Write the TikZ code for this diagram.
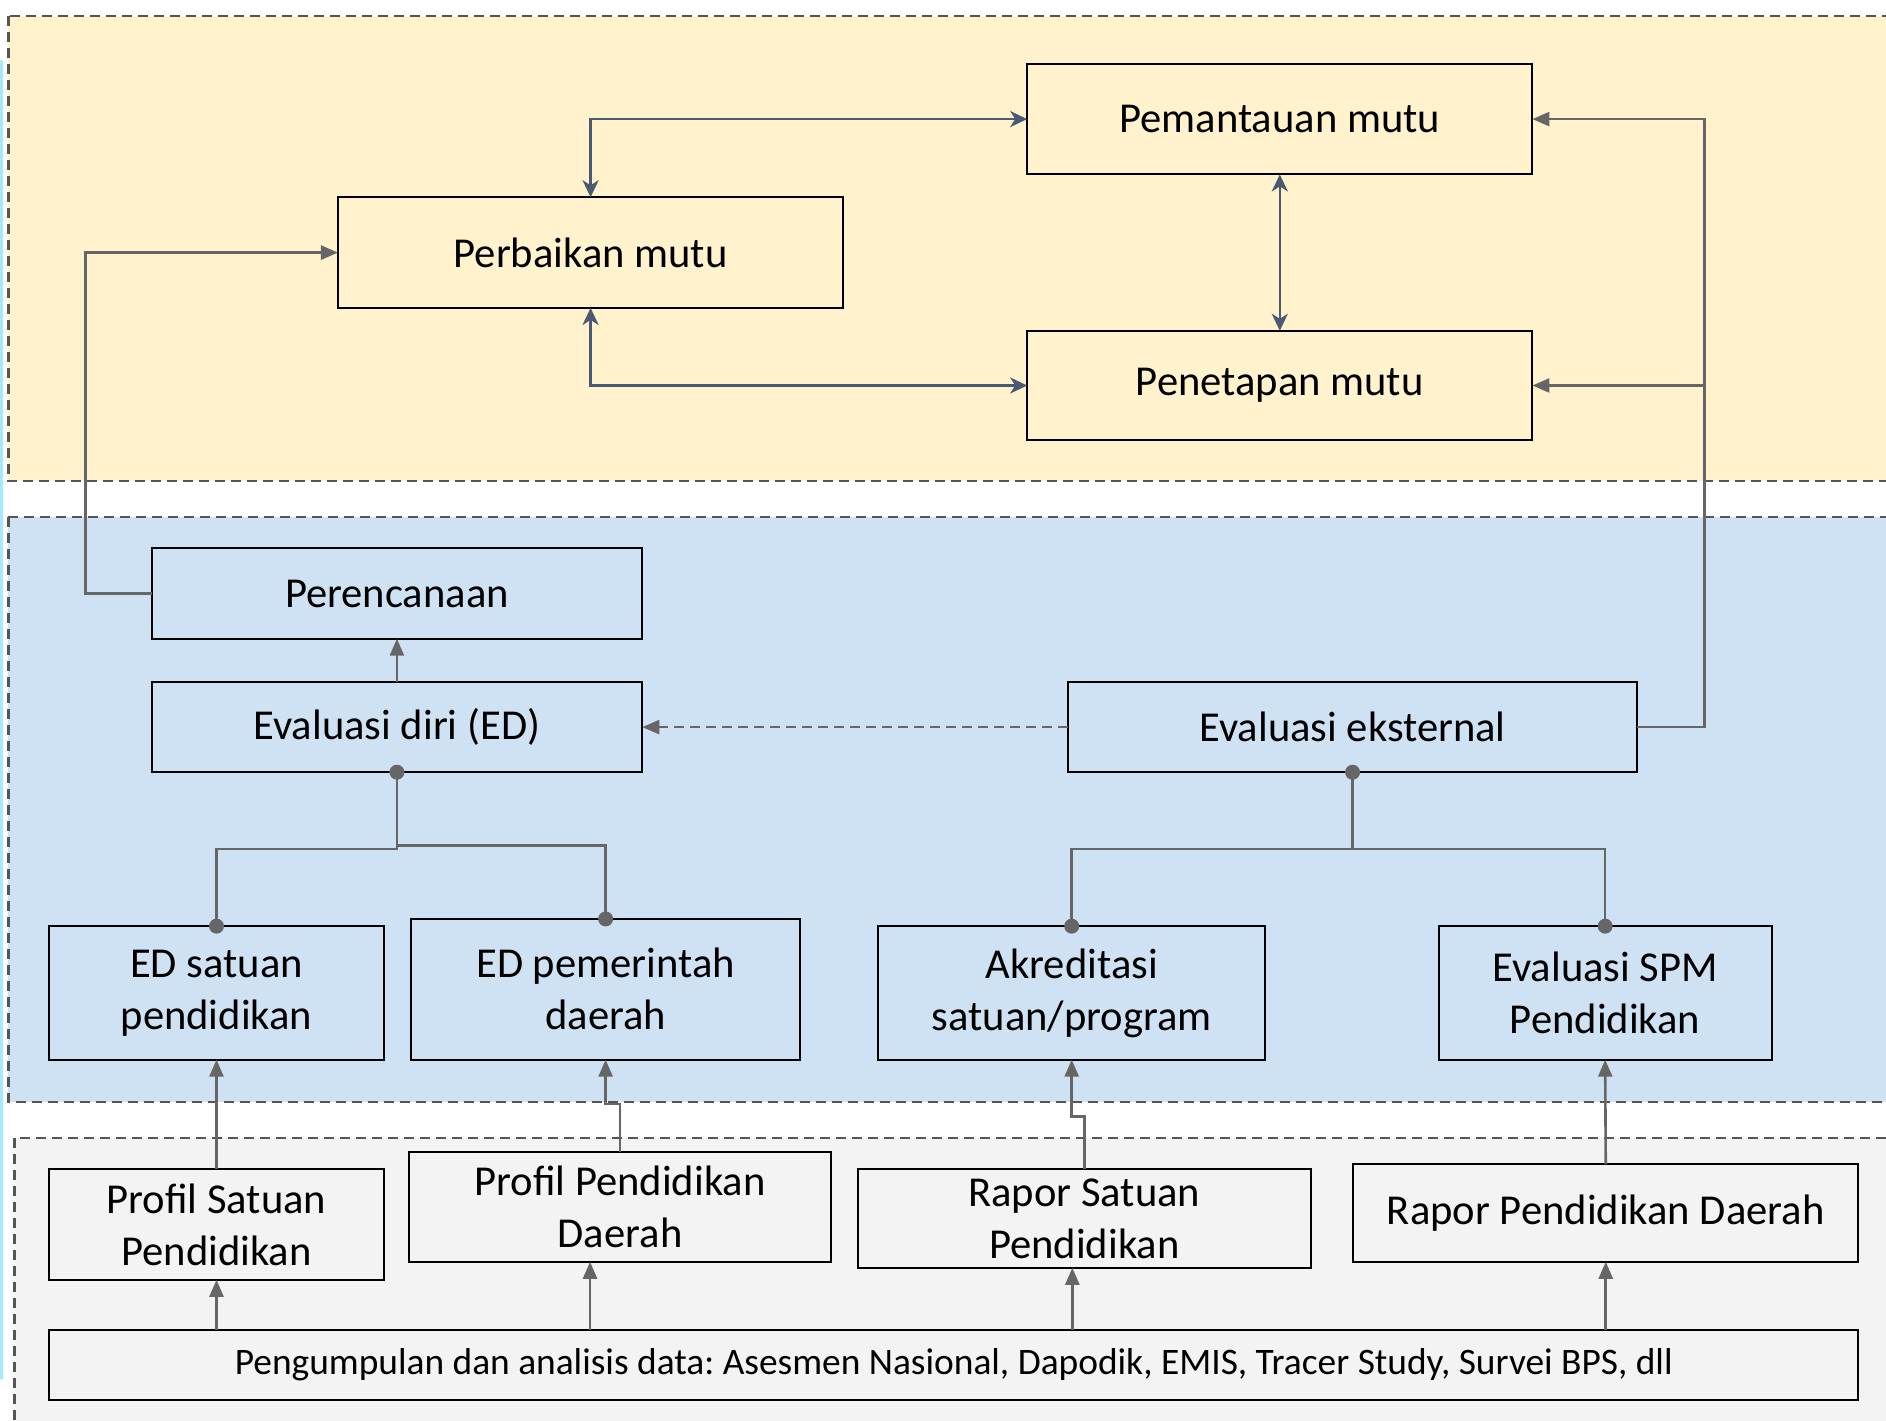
\documentclass[tikz,border=0pt]{standalone}
\usepackage{fontspec}
\setmainfont{Carlito}
\usetikzlibrary{arrows.meta,calc}
\definecolor{ybg}{HTML}{FFF2CC}
\definecolor{bbg}{HTML}{CFE2F3}
\definecolor{gbg}{HTML}{F3F3F3}
\definecolor{slate}{HTML}{4A5A72}
\definecolor{gline}{HTML}{666666}
\definecolor{dashc}{HTML}{555555}
\definecolor{cystrip}{HTML}{A6E9FF}
\frenchspacing
\newcommand\bx[7][]{%
  \node[box, #1, minimum width={(#5-#3)*1.2028pt}, minimum height={(#6-#4)*1.2028pt}]
    (#2) at ({(#3+#5)/2},{(#4+#6)/2}) {#7};}
\begin{document}
\begin{tikzpicture}[x=1.2028pt,y=-1.2028pt,
  box/.style={draw=black, line width=2pt, inner sep=0pt, outer sep=0pt, align=center,
    font=\fontsize{42.6}{52}\selectfont},
  region/.style={draw=dashc, line width=2.2pt, dash pattern=on 10pt off 6pt},
  biarr/.style={draw=slate, line width=2.6pt, {Stealth[length=17pt,width=16pt,inset=5pt]}-{Stealth[length=17pt,width=16pt,inset=5pt]}},
  garr/.style={draw=gline, line width=2.6pt, -{Triangle[length=17pt,width=14pt]}},
  gl/.style={draw=gline, line width=2.6pt},
  dot/.style={fill=gline}
]
\useasboundingbox (0,0) rectangle (1568,1181);
\fill[white] (0,0) rectangle (1568,1181);
% regions
\fill[ybg] (7,13) rectangle (1600,400);
\draw[region] (7,13) rectangle (1600,400);
\fill[bbg] (7,430) rectangle (1600,916);
\draw[region] (7,430) rectangle (1600,916);
\fill[gbg] (12,946) rectangle (1600,1220);
\draw[region] (12,946) rectangle (1600,1220);
\fill[cystrip, rounded corners=1pt] (0,50) rectangle (2.5,1147);

% top nodes
\bx{pemant}{854}{53}{1274}{145}{Pemantauan mutu}
\bx{perb}{281}{164}{701}{256}{Perbaikan mutu}
\bx{penet}{854}{275}{1274}{366}{Penetapan mutu}
% middle nodes
\bx{peren}{126}{456}{534}{531}{Perencanaan}
\bx{evdiri}{126}{567}{534}{642}{Evaluasi diri (ED)}
\bx{evext}{888}{567}{1361}{642}{Evaluasi eksternal}
\bx{edsat}{41}{770}{319}{881}{ED satuan\\pendidikan}
\bx{edpem}{342}{764}{665}{881}{ED pemerintah\\daerah}
\bx{akr}{730}{770}{1052}{881}{Akreditasi\\satuan/program}
\bx{spm}{1196}{770}{1473}{881}{Evaluasi SPM\\Pendidikan}
% bottom nodes
\bx{profsat}{41}{972}{319}{1064}{Profil Satuan\\Pendidikan}
\bx{profpd}{340}{958}{691}{1049}{Profil Pendidikan\\Daerah}
\bx{rapsat}{713}{972}{1090}{1054}{Rapor Satuan\\Pendidikan}
\bx{rappd}{1125}{968}{1545}{1049}{Rapor Pendidikan Daerah}
\bx[font=\fontsize{37.4}{44}\selectfont]{peng}{41}{1106}{1545}{1164}{Pengumpulan dan analisis data: Asesmen Nasional, Dapodik, EMIS, Tracer Study, Survei BPS, dll}

% top cycle
\draw[biarr] (perb.north) |- (pemant.west);
\draw[biarr] (perb.south) |- (penet.west);
\draw[biarr] (pemant.south) -- (penet.north);

% perencanaan -> perbaikan
\draw[garr] (peren.west) -- ++(-55,0) |- (perb.west);
% evaluasi eksternal -> pemantauan / penetapan
\coordinate (jr) at ($(evext.east)+(56,0)$);
\draw[garr] (evext.east) -- (jr) |- (pemant.east);
\draw[garr] (jr |- penet.east) -- (penet.east);
% evaluasi diri -> perencanaan
\draw[garr] (evdiri.north) -- (peren.south);
% dashed
\draw[garr, dash pattern=on 10pt off 6pt] (evext.west) -- (evdiri.east);

% ED tree
\draw[gl] (evdiri.south) -- ++(0,64) -| (edsat.north);
\draw[gl] (evdiri.south) -- ++(0,61) -| (edpem.north);
\fill[dot] (evdiri.south) circle[radius=7.5pt];
\fill[dot] (edsat.north) circle[radius=7.5pt];
\fill[dot] (edpem.north) circle[radius=7.5pt];
% eksternal tree
\draw[gl] (evext.south) -- ++(0,64) -| (akr.north);
\draw[gl] (evext.south) -- ++(0,64) -| (spm.north);
\fill[dot] (evext.south) circle[radius=7.5pt];
\fill[dot] (akr.north) circle[radius=7.5pt];
\fill[dot] (spm.north) circle[radius=7.5pt];

% bottom to middle
\draw[garr] (profsat.north) -- (edsat.south);
\draw[garr] (profpd.north) -- ++(0,-40) -| (edpem.south);
\draw[garr] (rapsat.north) -- ++(0,-44) -| (akr.south);
\draw[garr] (rappd.north) -- (spm.south);

% data -> bottom nodes
\draw[garr] (profsat.south |- peng.north) -- (profsat.south);
\draw[garr] ([xshift=-30pt]profpd.south |- peng.north) -- ([xshift=-30pt]profpd.south);
\draw[garr] ([xshift=-12pt]rapsat.south |- peng.north) -- ([xshift=-12pt]rapsat.south);
\draw[garr] (rappd.south |- peng.north) -- (rappd.south);
\end{tikzpicture}
\end{document}
